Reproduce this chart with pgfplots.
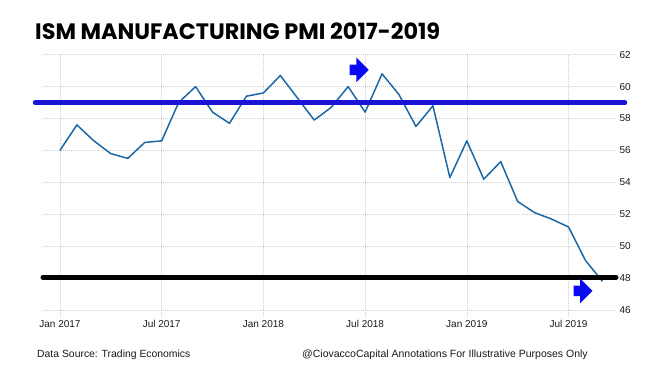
\documentclass[border=0pt]{standalone}
\usepackage{fontspec}
\setmainfont{Liberation Sans}
\newfontfamily\titlefont{Poppins}
\usepackage{graphicx}
\usepackage{pgfplots}
\pgfplotsset{compat=1.18}
\usetikzlibrary{shapes.arrows}
\definecolor{pmi}{RGB}{28,104,166}
\definecolor{bline}{RGB}{26,20,215}
\definecolor{arr}{RGB}{10,10,240}
\definecolor{gridc}{RGB}{205,205,205}

\pgfplotstableread{
idx val
0 56.0
1 57.6
2 56.6
3 55.8
4 55.5
5 56.5
6 56.6
7 59.0
8 60.0
9 58.4
10 57.7
11 59.4
12 59.6
13 60.7
14 59.3
15 57.9
16 58.7
17 60.0
18 58.4
19 60.8
20 59.5
21 57.5
22 58.8
23 54.3
24 56.6
25 54.2
26 55.3
27 52.8
28 52.1
29 51.7
30 51.2
31 49.1
32 47.8
}\pmidata

\begin{document}
\begin{tikzpicture}[x=1pt,y=1pt]
\path[use as bounding box] (-43,-71) rectangle (623,310);
\begin{axis}[
  at={(0,0)}, anchor=south west,
  scale only axis, width=573pt, height=255.3pt,
  xmin=-1, xmax=32.8, ymin=46, ymax=62,
  axis line style={draw=none},
  xtick={0,6,12,18,24,30},
  xticklabels={Jan 2017,Jul 2017,Jan 2018,Jul 2018,Jan 2019,Jul 2019},
  ytick={46,48,...,62},
  yticklabel pos=right,
  xtick pos=bottom,
  xtick align=outside,
  ytick align=inside,
  xmajorgrids, ymajorgrids,
  grid style={gridc, dash pattern=on 1pt off 1pt, line width=0.6pt},
  x tick style={gridc, dash pattern=on 1pt off 1pt, line width=0.6pt},
  y tick style={draw=none},
  major tick length=7pt,
  ticklabel style={font=\fontsize{10}{12}\selectfont, text=black!90},
  /pgf/number format/assume math mode=true,
  clip=false,
]
\addplot[pmi, line width=1.5pt, line join=round] table[x=idx, y=val] {\pmidata};
\addplot[bline, line width=4.5pt, line cap=round] coordinates {(-1.47,59) (33.33,59)};
\addplot[black, line width=5pt, line cap=round] coordinates {(-1,48.05) (32.8,48.05)};
\node[single arrow, fill=arr, minimum height=19pt, minimum width=17pt, inner sep=5pt] at (axis cs:17.5,61.05) {};
\node[single arrow, fill=arr, minimum height=19pt, minimum width=17pt, inner sep=5pt] at (axis cs:30.7,47.2) {};
\end{axis}
\node[anchor=base west, inner sep=0pt] at (-8,270) {\resizebox{405pt}{!}{\titlefont\bfseries ISM MANUFACTURING PMI 2017-2019}};
\node[anchor=base west, inner sep=0pt, font=\fontsize{10.4}{12}\selectfont, text=black!90] at (-6,-47) {Data Source: Trading Economics};
\node[anchor=base west, inner sep=0pt, font=\fontsize{10.5}{12}\selectfont, text=black!90] at (259,-47) {@CiovaccoCapital Annotations For Illustrative Purposes Only};
\end{tikzpicture}
\end{document}
